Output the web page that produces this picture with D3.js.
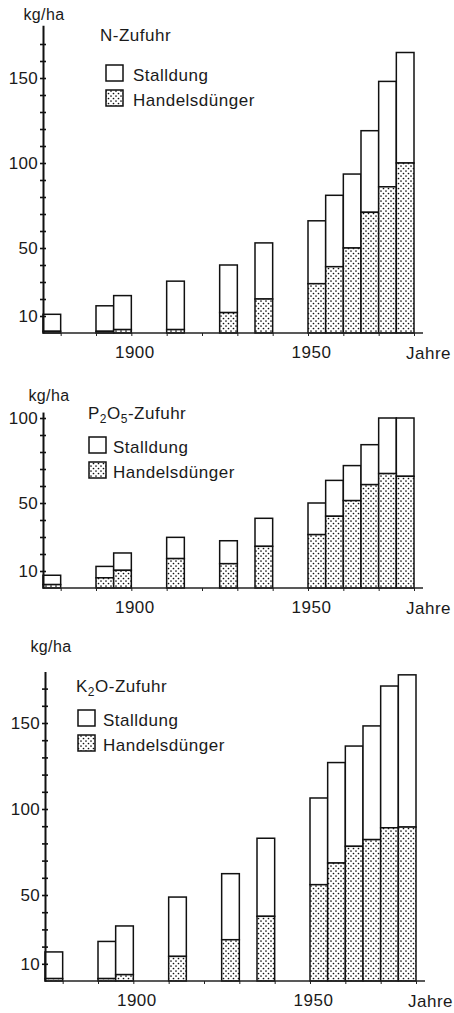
<!DOCTYPE html>
<meta charset="utf-8">
<head>
<style>
  body { margin: 0; background: #fff; }
  svg text { font-family: "Liberation Sans", Arial, sans-serif; fill: #1a1a1a; }
  .bar { stroke: #111; stroke-width: 1.5; }
</style>
<title>N-, P2O5- und K2O-Zufuhr</title>
</head>
<svg width="454" height="1013"></svg>
<script src="https://cdn.jsdelivr.net/npm/d3@7/dist/d3.min.js"></script>
<script>

// start year of each 5-year period
var years = [1875, 1890, 1895, 1910, 1925, 1935, 1950, 1955, 1960, 1965, 1970, 1975];
var xTicks = [1880, 1890, 1900, 1910, 1920, 1930, 1940, 1950, 1960, 1970, 1980];
var xLabels = [1900, 1950];

// total (Stalldung + Handelsdünger) and Handelsdünger part, kg/ha
var nTotal  = [11, 16, 22, 30.5, 40, 53, 66, 81, 93.5, 119, 148, 165];
var nHandel = [1, 1, 2, 2, 12, 20, 29, 39, 50, 71, 86, 100];
var pTotal  = [7.5, 12.7, 20.6, 29.8, 27.8, 41, 50, 63.3, 72, 84.3, 100, 100];
var pHandel = [2, 6, 10.4, 17.3, 14.3, 24.5, 31.4, 42.2, 51.4, 60.8, 67.3, 65.7];
var kTotal  = [16.9, 23, 32, 48.8, 62.4, 83, 106.4, 127, 136.6, 148.3, 171.5, 178];
var kHandel = [1.4, 1.4, 3.7, 14.3, 24, 37.6, 56, 68.6, 78.3, 82.2, 89.1, 89.5];

var nYLabels = [10, 50, 100, 150];
var pYLabels = [10, 50, 100];
var kYLabels = [10, 50, 100, 150];

var svg = d3.select("svg");

var defs = svg.append("defs");
var pat = defs.append("pattern")
    .attr("id", "dots")
    .attr("patternUnits", "userSpaceOnUse")
    .attr("width", 5).attr("height", 5);
pat.append("rect").attr("width", 5).attr("height", 5).attr("fill", "#fff");
pat.append("circle").attr("cx", 1).attr("cy", 1).attr("r", 0.85).attr("fill", "#111");
pat.append("circle").attr("cx", 3.5).attr("cy", 3.5).attr("r", 0.85).attr("fill", "#111");

// one panel per nutrient; geometry
var panels = [
  { total: nTotal, handel: nHandel, labels: nYLabels, ax: 43, base: 333, ppu: 1.7, ymax: 181, tickMax: 170,
    title: [["N-Zufuhr", 0]], tx: 100, ty: 41, unitX: 44, unitY: 20, legX: 106, legY: 65, legTx: 133 },
  { total: pTotal, handel: pHandel, labels: pYLabels, ax: 43, base: 588, ppu: 1.7, ymax: 103.5, tickMax: 100,
    title: [["P", 0], ["2", 1], ["O", 0], ["5", 1], ["-Zufuhr", 0]], tx: 88, ty: 419, unitX: 49, unitY: 401, legX: 89, legY: 437, legTx: 113 },
  { total: kTotal, handel: kHandel, labels: kYLabels, ax: 45, base: 981, ppu: 1.72, ymax: 180, tickMax: 170,
    title: [["K", 0], ["2", 1], ["O-Zufuhr", 0]], tx: 76, ty: 692, unitX: 51, unitY: 652, legX: 78, legY: 710, legTx: 103 }
];

panels.forEach(function(p) {
  var x = d3.scaleLinear().domain([1875, 1980]).range([p.ax, p.ax + 371]);
  var y = d3.scaleLinear().domain([0, p.ymax]).range([p.base, p.base - p.ymax * p.ppu]);
  var g = svg.append("g");

  var rows = years.map(function(yr, i) {
    return { year: yr, total: p.total[i], handel: p.handel[i] };
  });

  // Stalldung part (upper, white)
  g.selectAll(".stall")
    .data(rows)
    .enter().append("rect")
    .attr("class", "bar stall")
    .attr("x", function(d) { return x(d.year); })
    .attr("width", function(d) { return x(d.year + 5) - x(d.year); })
    .attr("y", function(d) { return y(d.total); })
    .attr("height", function(d) { return y(d.handel) - y(d.total); })
    .attr("fill", "#fff");

  // Handelsdünger part (lower, dotted)
  g.selectAll(".handel")
    .data(rows)
    .enter().append("rect")
    .attr("class", "bar handel")
    .attr("x", function(d) { return x(d.year); })
    .attr("width", function(d) { return x(d.year + 5) - x(d.year); })
    .attr("y", function(d) { return y(d.handel); })
    .attr("height", function(d) { return y(0) - y(d.handel); })
    .attr("fill", "url(#dots)");

  // x axis
  var xa = g.append("g")
    .attr("transform", "translate(0," + p.base + ")")
    .call(d3.axisBottom(x).tickValues(xTicks).tickSize(3)
      .tickFormat(function(d) { return xLabels.indexOf(d) >= 0 ? d : ""; }));
  xa.select(".domain").attr("d", "M" + p.ax + ",0H" + (p.ax + 380)).attr("stroke", "#222").attr("stroke-width", 1.3);
  xa.selectAll(".tick line").attr("stroke", "#222");
  xa.selectAll("text").attr("y", 13).attr("dx", 3).attr("font-size", "17px").attr("letter-spacing", "0.5px").attr("fill", "#1a1a1a");

  g.append("text")
    .attr("x", p.ax + 363).attr("y", p.base + 26)
    .attr("font-size", "17px").attr("letter-spacing", "0.5px")
    .text("Jahre");

  // y axis, ticks every 10 crossing the line
  var tv = d3.range(10, p.tickMax + 1, 10);
  var ya = g.append("g")
    .attr("transform", "translate(" + p.ax + ",0)")
    .call(d3.axisLeft(y).tickValues(tv).tickSize(3).tickSizeOuter(0)
      .tickFormat(function(d) { return p.labels.indexOf(d) >= 0 ? d : ""; }));
  ya.select(".domain").attr("stroke", "#111").attr("stroke-width", 2);
  ya.selectAll(".tick line").attr("x2", -3).attr("x1", 3).attr("stroke", "#111").attr("stroke-width", 1.6);
  ya.selectAll("text").attr("x", -5).attr("font-size", "17px").attr("letter-spacing", "0.3px").attr("fill", "#1a1a1a");

  g.append("text")
    .attr("x", p.unitX).attr("y", p.unitY)
    .attr("text-anchor", "middle")
    .attr("font-size", "16px").attr("letter-spacing", "0.4px")
    .text("kg/ha");

  // title with subscripts
  var t = g.append("text")
    .attr("x", p.tx).attr("y", p.ty)
    .attr("font-size", "17px").attr("letter-spacing", "0.5px");
  var sub = false;
  p.title.forEach(function(part) {
    var s = t.append("tspan").text(part[0]);
    if (part[1] && !sub) { s.attr("dy", 4).attr("font-size", "12px"); sub = true; }
    else if (!part[1] && sub) { s.attr("dy", -4); sub = false; }
  });

  // legend
  var leg = [["Stalldung", "#fff"], ["Handelsdünger", "url(#dots)"]];
  leg.forEach(function(l, i) {
    g.append("rect")
      .attr("x", p.legX).attr("y", p.legY + i * 25)
      .attr("width", 17).attr("height", 16)
      .attr("fill", l[1]).attr("stroke", "#111").attr("stroke-width", 1.5);
    g.append("text")
      .attr("x", p.legTx).attr("y", p.legY + 16 + i * 25)
      .attr("font-size", "17px").attr("letter-spacing", "0.5px")
      .text(l[0]);
  });
});

</script>
